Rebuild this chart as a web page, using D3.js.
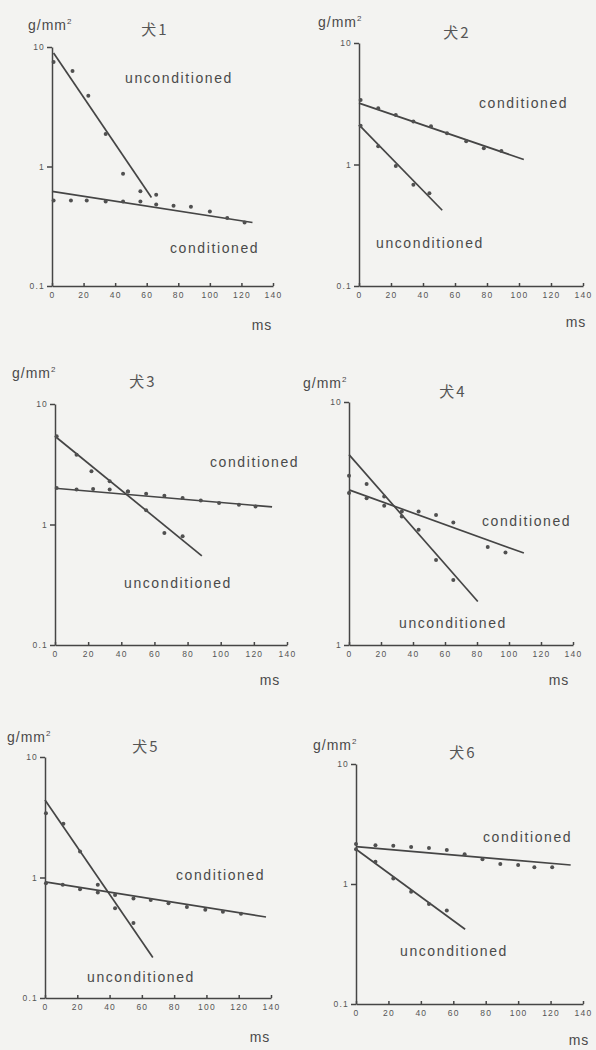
<!DOCTYPE html>
<html>
<head>
<meta charset="utf-8">
<script src="https://cdn.jsdelivr.net/npm/d3@7"></script>
<style>
  html, body { margin: 0; padding: 0; background: #f3f3f1; }
  svg { display: block; }
  .lbl { font-family: "Liberation Sans", Arial, sans-serif; fill: #4a4a4a; }
  .ttl { font-family: "Noto Sans CJK JP", "Liberation Sans", sans-serif; fill: #555; }
  .tick text { font-family: "Liberation Sans", Arial, sans-serif; fill: #555; font-size: 8.5px; letter-spacing: 1.2px; }
  .tick line, .domain { stroke: #454545; stroke-width: 1.5; }
</style>
</head>
<body>
<script>
// x axis ticks (ms) shared by all panels
var msTicks = [0, 20, 40, 60, 80, 100, 120, 140];

// 犬1
var dog1CondMs = [1, 12, 22, 34, 45, 56, 66, 77, 88, 100, 111, 122];
var dog1CondVal = [0.52, 0.52, 0.52, 0.51, 0.51, 0.51, 0.48, 0.47, 0.46, 0.42, 0.37, 0.34];
var dog1UncondMs = [1, 13, 23, 34, 45, 56, 66];
var dog1UncondVal = [7.5, 6.3, 3.9, 1.87, 0.87, 0.62, 0.58];
var dog1CondFit = [[0, 0.62], [127, 0.34]];
var dog1UncondFit = [[1, 8.9], [63, 0.55]];

// 犬2
var dog2CondMs = [1, 12, 23, 34, 45, 55, 67, 78, 89];
var dog2CondVal = [3.4, 2.9, 2.56, 2.26, 2.06, 1.81, 1.55, 1.36, 1.29];
var dog2UncondMs = [1, 12, 23, 34, 44];
var dog2UncondVal = [2.08, 1.41, 0.97, 0.68, 0.58];
var dog2CondFit = [[0, 3.2], [103, 1.1]];
var dog2UncondFit = [[0, 2.12], [52, 0.42]];

// 犬3
var dog3CondMs = [1, 13, 23, 33, 44, 55, 66, 77, 88, 99, 111, 121];
var dog3CondVal = [2.01, 1.95, 1.97, 1.95, 1.88, 1.8, 1.73, 1.66, 1.58, 1.51, 1.46, 1.41];
var dog3UncondMs = [1, 13, 22, 33, 44, 55, 66, 77];
var dog3UncondVal = [5.4, 3.8, 2.76, 2.28, 1.88, 1.31, 0.85, 0.8];
var dog3CondFit = [[0, 2.0], [131, 1.4]];
var dog3UncondFit = [[0, 5.4], [88.6, 0.55]];

// 犬4 (axis printed as 1 .. 10)
var dog4CondMs = [0, 11, 22, 33, 43.5, 54.4, 65.2, 86.7, 97.8];
var dog4CondVal = [4.22, 4.02, 3.74, 3.54, 3.54, 3.43, 3.19, 2.53, 2.4];
var dog4UncondMs = [0, 11, 22, 33, 43.5, 54.4, 65.2];
var dog4UncondVal = [4.97, 4.6, 4.08, 3.38, 2.98, 2.24, 1.85];
var dog4CondFit = [[0, 4.35], [109.3, 2.39]];
var dog4UncondFit = [[0, 6.07], [80.5, 1.51]];

// 犬5
var dog5CondMs = [0.6, 11, 21.7, 32.7, 43.4, 54.8, 65.5, 76.5, 87.9, 99.3, 110.2, 121.4];
var dog5CondVal = [0.895, 0.87, 0.8, 0.75, 0.715, 0.67, 0.65, 0.61, 0.57, 0.54, 0.52, 0.5];
var dog5UncondMs = [0.6, 11.4, 21.7, 32.7, 43.4, 54.8];
var dog5UncondVal = [3.42, 2.79, 1.64, 0.87, 0.555, 0.42];
var dog5CondFit = [[0, 0.92], [136.9, 0.47]];
var dog5UncondFit = [[0, 4.4], [66.8, 0.217]];

// 犬6
var dog6CondMs = [0, 12, 23, 34, 45, 56, 67, 78, 89, 100, 110, 121];
var dog6CondVal = [2.15, 2.1, 2.08, 2.03, 2.0, 1.92, 1.77, 1.61, 1.47, 1.44, 1.38, 1.38];
var dog6UncondMs = [0, 12, 23, 34, 45, 56];
var dog6UncondVal = [1.95, 1.53, 1.11, 0.86, 0.68, 0.6];
var dog6CondFit = [[0, 2.05], [132.4, 1.44]];
var dog6UncondFit = [[0, 1.95], [67.3, 0.42]];

var zip = function (xs, ys) { return xs.map(function (x, i) { return [x, ys[i]]; }); };

// panel placement: plot box, text anchors
var panels = [
	{ title: '犬1', cond: zip(dog1CondMs, dog1CondVal), uncond: zip(dog1UncondMs, dog1UncondVal), condFit: dog1CondFit, uncondFit: dog1UncondFit,
		yDomain: [0.1, 10], yTicks: [0.1, 1, 10], x0: 52, x1: 273, yTop: 47, yBot: 286,
		unit: [28, 30], titlePos: [155, 35], ms: [262, 330], uncLbl: [125, 83], conLbl: [170, 253] },
	{ title: '犬2', cond: zip(dog2CondMs, dog2CondVal), uncond: zip(dog2UncondMs, dog2UncondVal), condFit: dog2CondFit, uncondFit: dog2UncondFit,
		yDomain: [0.1, 10], yTicks: [0.1, 1, 10], x0: 359, x1: 583, yTop: 43, yBot: 286,
		unit: [318, 27], titlePos: [457, 38], ms: [576, 327], uncLbl: [376, 248], conLbl: [479, 108] },
	{ title: '犬3', cond: zip(dog3CondMs, dog3CondVal), uncond: zip(dog3UncondMs, dog3UncondVal), condFit: dog3CondFit, uncondFit: dog3UncondFit,
		yDomain: [0.1, 10], yTicks: [0.1, 1, 10], x0: 55, x1: 287, yTop: 404, yBot: 645,
		unit: [12, 378], titlePos: [143, 387], ms: [270, 685], uncLbl: [124, 588], conLbl: [210, 467] },
	{ title: '犬4', cond: zip(dog4CondMs, dog4CondVal), uncond: zip(dog4UncondMs, dog4UncondVal), condFit: dog4CondFit, uncondFit: dog4UncondFit,
		yDomain: [1, 10], yTicks: [1, 10], x0: 349, x1: 573, yTop: 402, yBot: 645,
		unit: [303, 388], titlePos: [453, 397], ms: [559, 685], uncLbl: [399, 628], conLbl: [482, 526] },
	{ title: '犬5', cond: zip(dog5CondMs, dog5CondVal), uncond: zip(dog5UncondMs, dog5UncondVal), condFit: dog5CondFit, uncondFit: dog5UncondFit,
		yDomain: [0.1, 10], yTicks: [0.1, 1, 10], x0: 45, x1: 271, yTop: 757, yBot: 998,
		unit: [7, 742], titlePos: [146, 752], ms: [260, 1042], uncLbl: [87, 982], conLbl: [176, 880] },
	{ title: '犬6', cond: zip(dog6CondMs, dog6CondVal), uncond: zip(dog6UncondMs, dog6UncondVal), condFit: dog6CondFit, uncondFit: dog6UncondFit,
		yDomain: [0.1, 10], yTicks: [0.1, 1, 10], x0: 356, x1: 583, yTop: 764, yBot: 1004,
		unit: [313, 750], titlePos: [463, 758], ms: [579, 1045], uncLbl: [400, 956], conLbl: [483, 842] }
];

var W = 596, H = 1050;
var svg = d3.select('body').append('svg').attr('width', W).attr('height', H);
svg.append('rect').attr('width', W).attr('height', H).attr('fill', '#f3f3f1');

var tickFmt = function (d) { return d < 1 ? '0.1' : String(d); };

panels.forEach(function (p) {
	var g = svg.append('g');
	var x = d3.scaleLinear().domain([0, 140]).range([p.x0, p.x1]);
	var y = d3.scaleLog().domain(p.yDomain).range([p.yBot, p.yTop]);

	// axes
	g.append('g')
		.attr('transform', 'translate(0,' + p.yBot + ')')
		.call(d3.axisBottom(x).tickValues(msTicks).tickSize(-3).tickSizeOuter(0).tickPadding(6));
	g.append('g')
		.attr('transform', 'translate(' + p.x0 + ',0)')
		.call(d3.axisLeft(y).tickValues(p.yTicks).tickFormat(tickFmt).tickSize(5).tickSizeOuter(0).tickPadding(2));

	// fitted lines
	var line = d3.line().x(function (d) { return x(d[0]); }).y(function (d) { return y(d[1]); });
	[p.condFit, p.uncondFit].forEach(function (f) {
		g.append('path').attr('d', line(f)).attr('fill', 'none')
			.attr('stroke', '#454545').attr('stroke-width', 1.7);
	});

	// measured points
	g.selectAll('.pt').data(p.cond.concat(p.uncond)).enter().append('circle')
		.attr('class', 'pt')
		.attr('cx', function (d) { return x(d[0]); })
		.attr('cy', function (d) { return y(d[1]); })
		.attr('r', 2)
		.attr('fill', '#505050');

	// texts
	g.append('text').attr('class', 'lbl').attr('x', p.unit[0]).attr('y', p.unit[1])
		.attr('font-size', 14).attr('letter-spacing', 1)
		.text('g/mm').append('tspan').attr('font-size', 8).attr('dy', -6).text('2');
	g.append('text').attr('class', 'ttl').attr('x', p.titlePos[0]).attr('y', p.titlePos[1])
		.attr('text-anchor', 'middle').attr('font-size', 15).attr('letter-spacing', 2).text(p.title);
	g.append('text').attr('class', 'lbl').attr('x', p.ms[0]).attr('y', p.ms[1])
		.attr('text-anchor', 'middle').attr('font-size', 14).attr('letter-spacing', 1).text('ms');
	g.append('text').attr('class', 'lbl').attr('x', p.uncLbl[0]).attr('y', p.uncLbl[1])
		.attr('font-size', 14).attr('letter-spacing', 1.6).text('unconditioned');
	g.append('text').attr('class', 'lbl').attr('x', p.conLbl[0]).attr('y', p.conLbl[1])
		.attr('font-size', 14).attr('letter-spacing', 1.6).text('conditioned');
});
</script>
</body>
</html>
